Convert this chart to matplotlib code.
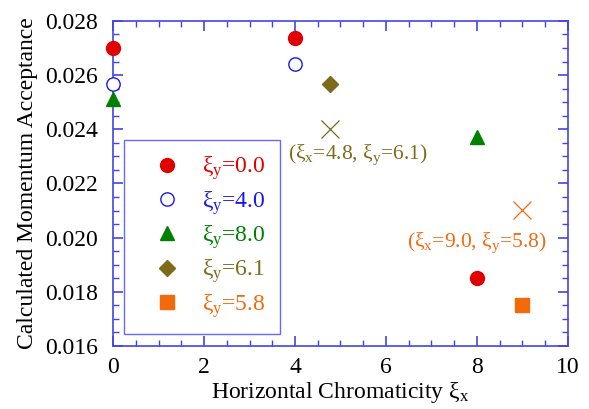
import matplotlib
matplotlib.use('Agg')
import matplotlib.pyplot as plt
from matplotlib.lines import Line2D
from matplotlib.ticker import MultipleLocator, FormatStrFormatter

plt.rcParams['font.family'] = ['Liberation Serif', 'DejaVu Serif']
plt.rcParams['mathtext.fontset'] = 'custom'
plt.rcParams['mathtext.rm'] = 'Liberation Serif'
plt.rcParams['mathtext.it'] = 'Liberation Serif:italic'

# data
xi_y_labels = ['0.0', '4.0', '8.0', '6.1', '5.8']
colors = ['#e00000', '#1a1ae6', '#008000', '#7f6a1a', '#f26a0c']
markers = ['o', 'o', '^', 'D', 's']
filled = [True, False, True, True, True]

x_00 = [0, 4, 8]
y_00 = [0.02698, 0.02735, 0.01850]
x_40 = [0, 4]
y_40 = [0.02566, 0.02641]
x_80 = [0, 8]
y_80 = [0.02510, 0.02370]
x_61 = [4.78]
y_61 = [0.02567]
x_58 = [9.0]
y_58 = [0.01752]

# crosses = operating points
cross_x = [4.78, 9.0]
cross_y = [0.02402, 0.02103]
cross_text = ['(ξ$_\\mathregular{x}$=4.8, ξ$_\\mathregular{y}$=6.1)',
              '(ξ$_\\mathregular{x}$=9.0, ξ$_\\mathregular{y}$=5.8)']
cross_colors = ['#7f6a1a', '#f26a0c']
text_xy = [(5.38, 0.02305), (8.0, 0.01982)]

spine_col = '#4444e6'

fig = plt.figure(figsize=(5.89, 4.09), dpi=100)
ax = fig.add_axes([0.192, 0.154, 0.772, 0.795])

series = [(x_00, y_00), (x_40, y_40), (x_80, y_80), (x_61, y_61), (x_58, y_58)]
sizes = [10, 9.6, 10, 7.7, 10.5]
handles = []
for (xs, ys), c, m, f, s in zip(series, colors, markers, filled, sizes):
    fc = c if f else 'white'
    ax.plot(xs, ys, ls='none', marker=m, ms=s, mfc=fc, mec=c, mew=1.0,
            clip_on=False, zorder=5)
    handles.append(Line2D([], [], ls='none', marker=m, ms=s, mfc=fc,
                          mec=c, mew=1.0))

for cx, cy, t, c, (tx, ty) in zip(cross_x, cross_y, cross_text, cross_colors, text_xy):
    ax.plot(cx, cy, ls='none', marker='x', ms=13, mew=0.9, color=c)
    ax.text(tx, ty, t, color=c, fontsize=15.5, ha='center', va='center')

ax.set_xlim(0, 10)
ax.set_ylim(0.016, 0.028)
ax.xaxis.set_major_locator(MultipleLocator(2))
ax.xaxis.set_minor_locator(MultipleLocator(0.5))
ax.yaxis.set_major_locator(MultipleLocator(0.002))
ax.yaxis.set_minor_locator(MultipleLocator(0.0005))
ax.yaxis.set_major_formatter(FormatStrFormatter('%.3f'))

ax.tick_params(which='both', direction='in', top=True, right=True,
               color=spine_col, labelsize=17, labelcolor='black')
ax.tick_params(which='major', length=7, width=1.2, pad=8)
ax.tick_params(axis='y', which='major', pad=11)
ax.tick_params(which='minor', length=4, width=1.0)
for sp in ax.spines.values():
    sp.set_color(spine_col)
    sp.set_linewidth(1.2)

ax.set_xlabel('Horizontal Chromaticity ξ$_\\mathregular{x}$', fontsize=17, labelpad=1)
ax.set_ylabel('Calculated Momentum Acceptance', fontsize=17, labelpad=5)

labels = ['ξ$_\\mathregular{y}$=' + v for v in xi_y_labels]
leg = ax.legend(handles, labels, loc='lower left', bbox_to_anchor=(0.024, 0.037),
                borderaxespad=0, fontsize=17, frameon=True, fancybox=False,
                handletextpad=0.3, labelspacing=0.28, borderpad=0.6,
                handlelength=2.4)
leg.get_frame().set_edgecolor(spine_col)
leg.get_frame().set_linewidth(1.0)
for txt, c in zip(leg.get_texts(), colors):
    txt.set_color(c)

fig.savefig('out.png', dpi=100)
